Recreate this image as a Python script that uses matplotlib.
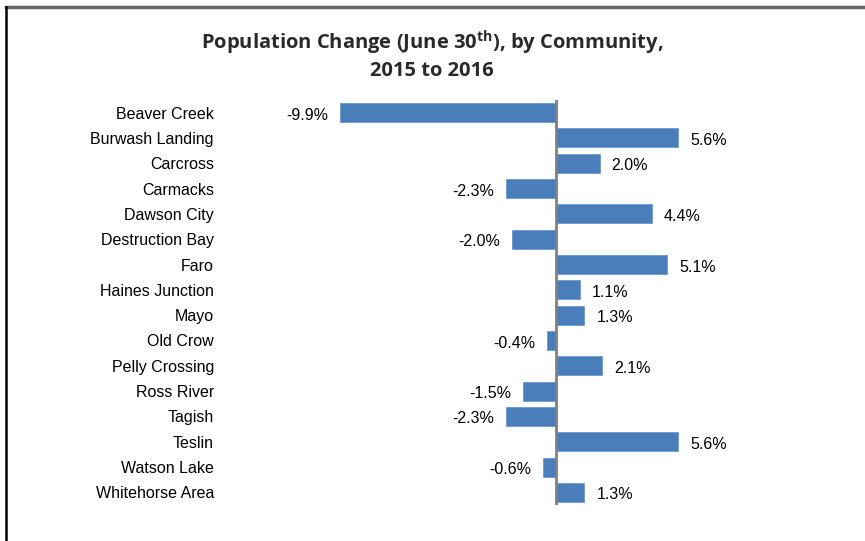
import matplotlib.pyplot as plt
import numpy as np

communities = [
    "Beaver Creek", "Burwash Landing", "Carcross", "Carmacks", "Dawson City",
    "Destruction Bay", "Faro", "Haines Junction", "Mayo", "Old Crow",
    "Pelly Crossing", "Ross River", "Tagish", "Teslin", "Watson Lake",
    "Whitehorse Area",
]
change_pct = [-9.9, 5.6, 2.0, -2.3, 4.4, -2.0, 5.1, 1.1, 1.3, -0.4, 2.1, -1.5, -2.3, 5.6, -0.6, 1.3]

plt.rcParams["font.family"] = ["Liberation Sans", "DejaVu Sans"]
plt.rcParams["mathtext.default"] = "regular"

W, H = 865, 541
fig = plt.figure(figsize=(W / 100, H / 100), dpi=100)

# axes placed in pixel terms: zero line at x=556, rows from y=100 to y=505
left, right, top, bottom = 225, 730, 100, 505
ax = fig.add_axes([left / W, 1 - bottom / H, (right - left) / W, (bottom - top) / H])

ypos = np.arange(len(communities))
ax.barh(ypos, change_pct, height=0.75, color="#4A7EBB", edgecolor="#6E98CC", linewidth=0.6, zorder=2)
ax.axvline(0, color="#808080", lw=2, zorder=3)

px = 21.8  # pixels per percent
ax.set_xlim(-(556 - left) / px, (right - 556) / px)
ax.set_ylim(len(communities) - 0.5, -0.5)

off = 12 / px
for y, v in zip(ypos, change_pct):
    if v >= 0:
        ax.text(v + off, y + 0.1, f"{v:.1f}%", ha="left", va="center", fontsize=11.5)
    else:
        ax.text(v - off, y + 0.1, f"{v:.1f}%", ha="right", va="center", fontsize=11.5)

ax.set_yticks(ypos)
ax.set_yticklabels(communities, fontsize=11.5)
ax.tick_params(axis="y", length=0, pad=8)
ax.set_xticks([])
for s in ax.spines.values():
    s.set_visible(False)

# title
fig.text(432 / W, 1 - 43 / H, "Population Change (June 30$^{th}$), by Community,",
         ha="center", va="center", fontsize=14.5, fontweight="bold",
         family="Open Sans", color="#2a2a2a")
fig.text(432 / W, 1 - 71 / H, "2015 to 2016", ha="center", va="center",
         fontsize=14.5, fontweight="bold", family="Open Sans", color="#2a2a2a")

# frame lines at top and left
fig.add_artist(plt.Line2D([6 / W, 1], [1 - 7 / H, 1 - 7 / H], color="#666666", lw=2.5))
fig.add_artist(plt.Line2D([6 / W, 6 / W], [0, 1 - 7 / H], color="black", lw=1.8))

fig.savefig("out.png", dpi=100)
